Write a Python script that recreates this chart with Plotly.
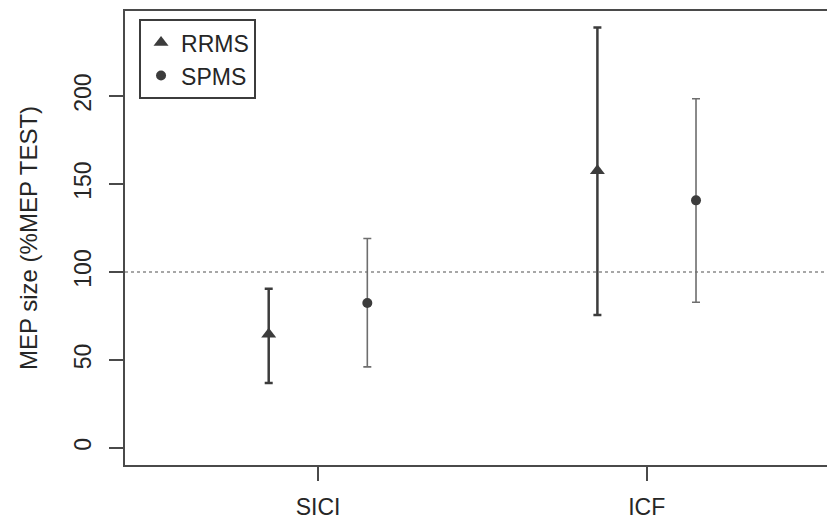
import plotly.graph_objects as go

categories = ["SICI", "ICF"]
cat_pos = [1, 2]
groups = ["RRMS", "SPMS"]
offsets = [-0.15, 0.15]

# means and CI limits
rrms_mean = [64.5, 157.5]
rrms_upper = [90.5, 239.0]
rrms_lower = [36.8, 75.5]
spms_mean = [82.3, 140.7]
spms_upper = [119.0, 198.5]
spms_lower = [46.0, 82.8]

ref_line = 100
y_ticks = [0, 50, 100, 150, 200]

FONT = "Liberation Sans, Arial, sans-serif"
TXT = "#262626"

fig = go.Figure()

series = [
    ("RRMS", rrms_mean, rrms_upper, rrms_lower, "triangle-up", 13, "#3c3c3c", 2.5, offsets[0]),
    ("SPMS", spms_mean, spms_upper, spms_lower, "circle", 10, "#6e6e6e", 1.6, offsets[1]),
]
for name, m, up, lo, sym, sz, ecol, ew, off in series:
    xs = [p + off for p in cat_pos]
    fig.add_trace(go.Scatter(
        x=xs, y=m, mode="markers", name=name,
        marker=dict(symbol=sym, size=sz, color="#3c3c3c", line=dict(width=0)),
        error_y=dict(type="data", symmetric=False,
                     array=[u - v for u, v in zip(up, m)],
                     arrayminus=[v - l for v, l in zip(m, lo)],
                     color=ecol, thickness=ew, width=4),
    ))

fig.add_shape(type="line", xref="paper", x0=0, x1=1, yref="y", y0=ref_line, y1=ref_line,
              line=dict(color="#8a8a8a", width=1.5, dash="dot"), layer="below")

fig.add_annotation(text="MEP size (%MEP TEST)", xref="paper", yref="paper",
                   x=(28 - 125) / 702, y=0.5, xanchor="center", yanchor="middle",
                   textangle=-90, showarrow=False, font=dict(family=FONT, size=24, color=TXT))

fig.update_layout(
    width=827, height=520,
    margin=dict(l=125, r=0, t=11, b=55, autoexpand=False),
    paper_bgcolor="white", plot_bgcolor="white",
    font=dict(family=FONT, size=23, color=TXT),
    showlegend=True,
    legend=dict(x=0.02, y=0.982, xanchor="left", yanchor="top",
                bordercolor="#3c3c3c", borderwidth=2, bgcolor="white",
                font=dict(family=FONT, size=23, color=TXT),
                itemwidth=30, tracegroupgap=0),
    xaxis=dict(range=[0.4128, 2.5485], tickvals=cat_pos, ticktext=categories,
               showgrid=False, zeroline=False, showline=True, mirror=True, automargin=False,
               linecolor="#4a4a4a", linewidth=2, ticks="outside", ticklen=14,
               tickwidth=2, tickcolor="#4a4a4a", ticklabelstandoff=6),
    yaxis=dict(range=[-9.8, 248.4], tickvals=y_ticks, automargin=False,
               showgrid=False, zeroline=False, showline=True, mirror=False,
               linecolor="#4a4a4a", linewidth=2, ticks="outside", ticklen=14,
               tickwidth=2, tickcolor="#4a4a4a", tickangle=-90, ticklabelstandoff=9),
)

fig.write_html("out.html")
